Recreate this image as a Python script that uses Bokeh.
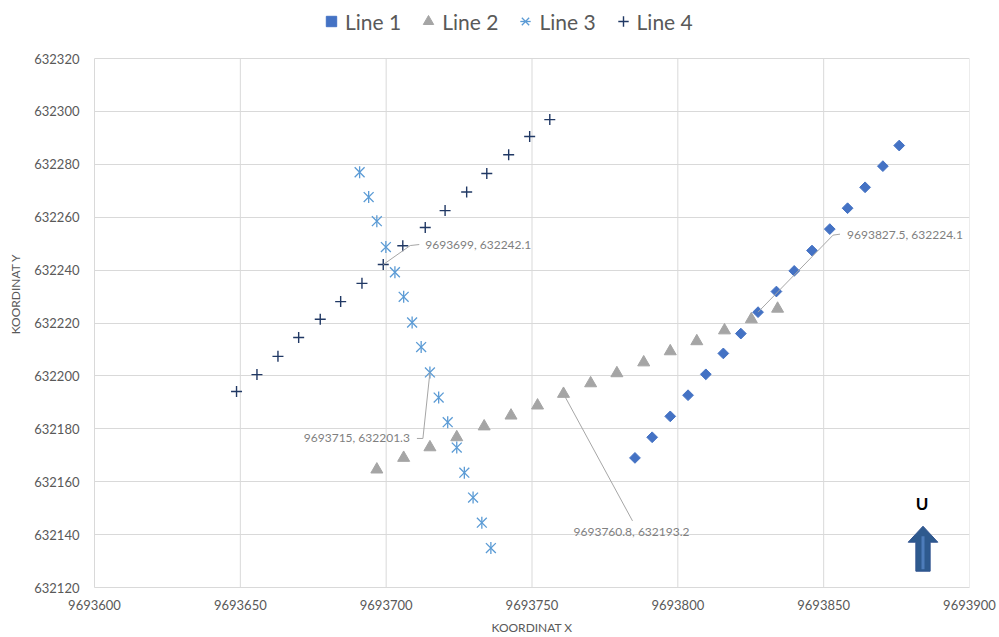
import numpy as np
from bokeh.plotting import figure
from bokeh.models import Legend, LegendItem, Label, FixedTicker, BasicTickFormatter
from bokeh.embed import file_html
from bokeh.resources import INLINE

# ---------------- data ----------------
line1_x = [9693785.3, 9693791.2, 9693797.4, 9693803.5, 9693809.6, 9693815.6, 9693821.6, 9693827.5,
           9693833.8, 9693839.9, 9693846.0, 9693852.1, 9693858.2, 9693864.2, 9693870.3, 9693875.9]
line1_y = [632169.0, 632176.8, 632184.7, 632192.7, 632200.6, 632208.5, 632216.0, 632224.1,
           632231.9, 632239.7, 632247.4, 632255.5, 632263.4, 632271.3, 632279.3, 632287.1]

line2_x = [9693696.8, 9693706.0, 9693715.0, 9693724.2, 9693733.6, 9693742.8, 9693751.9, 9693760.8,
           9693770.1, 9693779.1, 9693788.3, 9693797.4, 9693806.5, 9693816.0, 9693825.2, 9693834.2]
line2_y = [632164.6, 632169.0, 632173.0, 632176.8, 632180.9, 632185.0, 632188.8, 632193.2,
           632197.2, 632201.0, 632205.1, 632209.3, 632213.1, 632217.2, 632221.4, 632225.4]

line3_x = [9693690.9, 9693694.0, 9693696.8, 9693699.9, 9693703.0, 9693706.0, 9693708.9, 9693712.0,
           9693715.0, 9693718.0, 9693721.1, 9693724.2, 9693726.8, 9693729.8, 9693732.8, 9693735.9]
line3_y = [632277.0, 632267.6, 632258.5, 632248.7, 632239.2, 632229.9, 632220.2, 632210.9,
           632201.3, 632191.8, 632182.5, 632172.9, 632163.4, 632154.0, 632144.5, 632134.9]

line4_x = [9693648.7, 9693655.7, 9693662.9, 9693670.0, 9693677.4, 9693684.4, 9693691.7, 9693699.0,
           9693705.7, 9693713.4, 9693720.2, 9693727.6, 9693734.5, 9693742.0, 9693749.2, 9693756.1]
line4_y = [632194.1, 632200.5, 632207.4, 632214.5, 632221.4, 632228.1, 632235.0, 632242.1,
           632249.2, 632256.1, 632262.5, 632269.5, 632276.5, 632283.6, 632290.5, 632296.9]

series_names = ["Line 1", "Line 2", "Line 3", "Line 4"]
x_ticks = [9693600, 9693650, 9693700, 9693750, 9693800, 9693850, 9693900]
y_ticks = [632120, 632140, 632160, 632180, 632200, 632220, 632240, 632260, 632280, 632300, 632320]

# callouts: (series index, point index)
callouts = [(3, 7), (2, 8), (1, 7), (0, 7)]

# ---------------- layout ----------------
# The frame reaches the top of the canvas so the legend (drawn inside the frame) is not
# clipped; the plotting box itself (grid, axes) is bounded to the tick range.
W, H = 999, 637
FL, FR, FT, FB = 94, 30, 58, 50          # plot box edges, in page pixels
BOX_W, BOX_H = W - FL - FR, H - FT - FB
X0, X1 = x_ticks[0], x_ticks[-1]
Y0, Y1 = y_ticks[0], y_ticks[-1]
SX = BOX_W / (X1 - X0)
SY = BOX_H / (Y1 - Y0)
Y_TOP = Y1 + FT / SY                      # range end at the very top of the canvas

def dx(px):
    return px / SX

def dy(py):
    # screen offset (down positive) -> data offset
    return -py / SY

def fx(px):
    return X0 + (px - FL) / SX

def fy(py):
    return Y1 - (py - FT) / SY

GRID = "#D9D9D9"
TXT = "#595959"
FONT = "Lato"

p = figure(width=W, height=H, output_backend="svg", toolbar_location=None,
           x_range=(X0, X1), y_range=(Y0, Y_TOP),
           min_border_left=FL, min_border_right=FR, min_border_top=0, min_border_bottom=FB,
           background_fill_color="white", border_fill_color="white")
p.outline_line_color = None
p.title.visible = False

p.xaxis.ticker = FixedTicker(ticks=x_ticks)
p.yaxis.ticker = FixedTicker(ticks=y_ticks)
p.ygrid.ticker = FixedTicker(ticks=y_ticks)
p.xgrid.visible = False
p.yaxis.bounds = (Y0, Y1)
p.xaxis.formatter = BasicTickFormatter(use_scientific=False)
p.yaxis.formatter = BasicTickFormatter(use_scientific=False)
p.grid.grid_line_color = GRID
p.grid.grid_line_width = 1
p.axis.axis_line_color = GRID
p.axis.major_tick_line_color = None
p.axis.minor_tick_line_color = None
p.axis.major_label_text_font = FONT
p.axis.major_label_text_font_size = "13px"
p.axis.major_label_text_color = TXT
p.xaxis.major_label_standoff = 6
p.yaxis.major_label_standoff = 9
p.xaxis.axis_label = "KOORDINAT X"
p.yaxis.axis_label = "KOORDINAT Y"
p.axis.axis_label_text_font = FONT
p.axis.axis_label_text_font_size = "12px"
p.axis.axis_label_text_font_style = "normal"
p.axis.axis_label_text_color = TXT
p.xaxis.axis_label_standoff = 7
p.yaxis.axis_label_standoff = 8

# vertical grid lines limited to the tick range
p.segment(x0=x_ticks, y0=[Y0] * len(x_ticks), x1=x_ticks, y1=[Y1] * len(x_ticks),
          line_color=GRID, line_width=1)

# ---------------- series ----------------
r1 = p.scatter(line1_x, line1_y, marker="square", angle=np.pi / 4, size=7.6,
               fill_color="#4472C4", line_color="#4472C4")
r2 = p.scatter(line2_x, line2_y, marker="triangle", size=12,
               fill_color="#A5A5A5", line_color="#A5A5A5")
r3a = p.scatter(line3_x, line3_y, marker="x", size=14, line_color="#5B9BD5", line_width=1.3)
r3b = p.scatter(line3_x, line3_y, marker="dash", angle=np.pi / 2, size=12,
                line_color="#5B9BD5", line_width=1.3)
r4 = p.scatter(line4_x, line4_y, marker="cross", size=11, line_color="#203864", line_width=1.4)

# ---------------- callouts ----------------
all_x = [line1_x, line2_x, line3_x, line4_x]
all_y = [line1_y, line2_y, line3_y, line4_y]
# leader-line offsets in screen px (right, down) and label offsets / alignment
leader_px = {
    3: [(0, 0), (27, -19), (36, -20)],
    2: [(0, 0), (-7, 66), (-13, 66)],
    1: [(0, 0), (69, 127)],
    0: [(0, 0), (75, -77), (82, -78)],
}
label_px = {3: (42, -20, "left"), 2: (-20, 65, "right"), 1: (68, 138, "center"), 0: (89, -78, "left")}

def fmt(v):
    s = ("%.1f" % v)
    return s[:-2] if s.endswith(".0") else s

for si, pi in callouts:
    xv, yv = all_x[si][pi], all_y[si][pi]
    pts = leader_px[si]
    p.line([xv + dx(a) for a, b in pts], [yv + dy(b) for a, b in pts],
           line_color="#A6A6A6", line_width=1)
    ox, oy, al = label_px[si]
    p.add_layout(Label(x=xv + dx(ox), y=yv + dy(oy), text="%s, %s" % (fmt(xv), fmt(yv)),
                       text_font=FONT, text_font_size="12px", text_color="#7F7F7F",
                       text_align=al, text_baseline="middle"))

# ---------------- north arrow (decoration, placed in page pixels) ----------------
arrow_cx, arrow_top = 922.5, 525.7
head_w, head_h, shaft_w, total_h = 29.6, 16, 14.3, 45
xs = [0, head_w / 2, shaft_w / 2, shaft_w / 2, -shaft_w / 2, -shaft_w / 2, -head_w / 2]
ys = [0, head_h, head_h, total_h, total_h, head_h, head_h]
p.patch([fx(arrow_cx + a) for a in xs], [fy(arrow_top + b) for b in ys],
        fill_color="#2E5A8E", line_color="#2F528F", line_width=1)
p.line([fx(arrow_cx), fx(arrow_cx)], [fy(arrow_top + 10), fy(arrow_top + total_h - 2)],
       line_color="#5585C5", line_width=3, line_alpha=0.8)
p.add_layout(Label(x=fx(arrow_cx - 1), y=fy(503), text="U", text_font=FONT,
                   text_font_size="17px", text_font_style="bold", text_color="black",
                   text_align="center", text_baseline="middle"))

# ---------------- legend (inside the frame, above the plot box) ----------------
legend = Legend(items=[LegendItem(label=series_names[0], renderers=[r1]),
                       LegendItem(label=series_names[1], renderers=[r2]),
                       LegendItem(label=series_names[2], renderers=[r3a, r3b]),
                       LegendItem(label=series_names[3], renderers=[r4])],
                orientation="horizontal", location=(318 - FL, H - FB - 34),
                glyph_width=26, glyph_height=26, label_standoff=1, spacing=14,
                padding=0, margin=0, border_line_color=None, background_fill_alpha=0,
                label_text_font=FONT, label_text_font_size="21px", label_text_color=TXT)
p.add_layout(legend)

open("out.html", "w").write(file_html(p, INLINE))
